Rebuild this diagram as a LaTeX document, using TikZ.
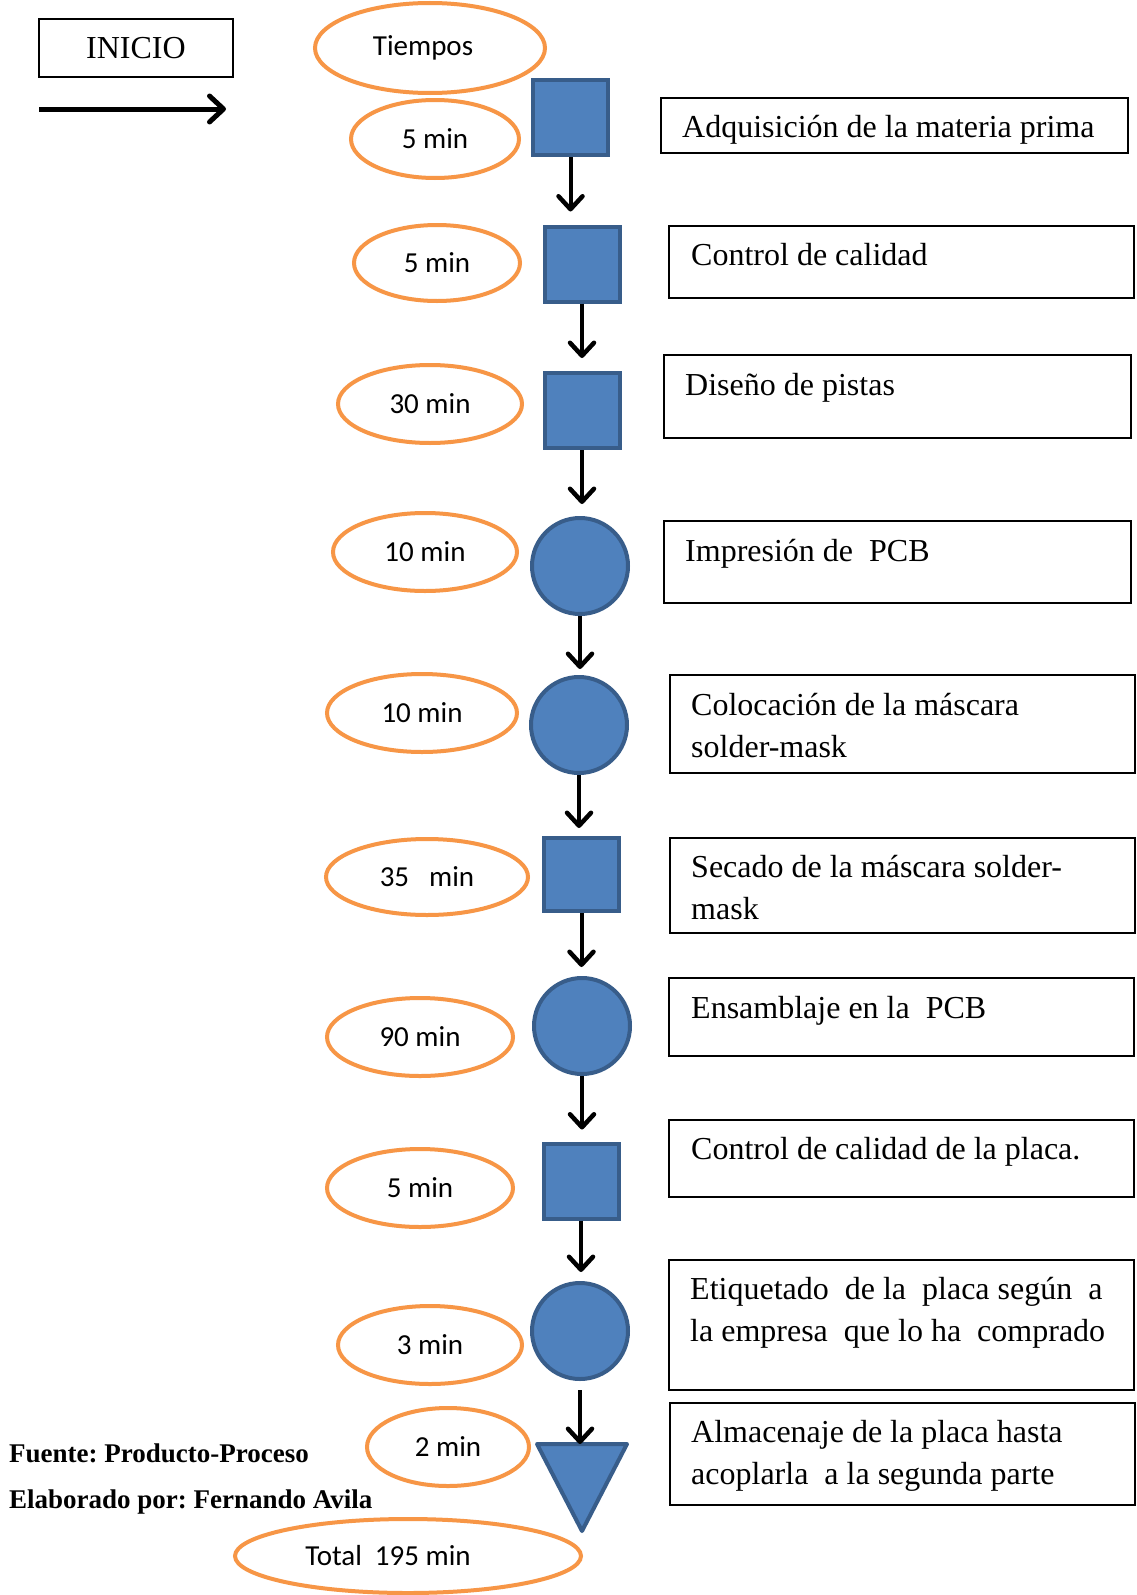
\documentclass[tikz,border=0pt]{standalone}
\usepackage{fontspec}
\setmainfont{Liberation Serif}
\newfontfamily\carl{Carlito}
\usetikzlibrary{shapes.geometric,arrows.meta}
\definecolor{pblue}{HTML}{4F81BD}
\definecolor{pborder}{HTML}{385D8A}
\definecolor{porange}{HTML}{F79646}
\frenchspacing
\newcommand\natsp{\spaceskip=0pt\xspaceskip=0pt\relax}
\begin{document}
\begin{tikzpicture}[x=1pt,y=-1pt,
  proc/.style={rectangle,fill=pblue,draw=pborder,line width=4pt,minimum width=75pt,minimum height=75pt,inner sep=0pt},
  opc/.style={circle,fill=pblue,draw=pborder,line width=4pt,minimum size=96pt,inner sep=0pt},
  tiempo/.style={ellipse,draw=porange,line width=4pt,inner sep=0pt,font=\carl\fontsize{29}{34}\selectfont},
  desc/.style={rectangle,draw=black,line width=1.6pt,inner sep=0pt},
  txt/.style={anchor=base west,inner sep=0pt,text width=440pt,align=left,font=\fontsize{32}{42}\selectfont},
  arr/.style={line width=4pt,-{Straight Barb[length=13pt,width=24pt,line width=4.5pt,round]}},
  foot/.style={anchor=base west,inner sep=0pt,font=\bfseries\fontsize{27}{32}\selectfont}
]
\path[fill=white] (0,0) rectangle (1136,1595);
\useasboundingbox (0,0) rectangle (1136,1595);

% legend
\node[desc,minimum width=194pt,minimum height=58pt,font=\fontsize{32}{38}\selectfont] (inicio) at (136,48) {INICIO};
\coordinate (ia) at (39,109);
\coordinate (ib) at (226,109);
\draw[line width=5pt,-{Straight Barb[length=14pt,width=26pt,line width=5pt,round]}] (ia) -- (ib);

% times
\node[tiempo,minimum width=230pt,minimum height=90pt] (tiempos) at (430,48) {\hspace*{-14pt}Tiempos};
\node[tiempo,minimum width=168pt,minimum height=78pt] (e1) at (435,139) {5 min};
\node[tiempo,minimum width=166pt,minimum height=76pt] (e2) at (437,263) {5 min};
\node[tiempo,minimum width=184pt,minimum height=78pt] (e3) at (430,404) {30 min};
\node[tiempo,minimum width=184pt,minimum height=78pt] (e4) at (425,552) {10 min};
\node[tiempo,minimum width=190pt,minimum height=78pt] (e5) at (422,713) {10 min};
\node[tiempo,minimum width=202pt,minimum height=76pt] (e6) at (427,877) {35\hspace{20pt}min};
\node[tiempo,minimum width=186pt,minimum height=78pt] (e7) at (420,1037) {90 min};
\node[tiempo,minimum width=186pt,minimum height=78pt] (e8) at (420,1188) {5 min};
\node[tiempo,minimum width=184pt,minimum height=78pt] (e9) at (430,1345) {3 min};
\node[tiempo,minimum width=162pt,minimum height=78pt] (e10) at (448,1447) {2 min};
\node[tiempo,minimum width=346pt,minimum height=74pt] (total) at (408,1556) {\hspace*{-40pt}Total\hspace{13pt}195 min};

% process symbols
\node[proc] (s1) at (570.5,117.5) {};
\node[proc] (s2) at (582,264) {};
\node[proc] (s3) at (582,410.5) {};
\node[opc] (c4) at (580,566) {};
\node[opc] (c5) at (579,725) {};
\node[proc,minimum height=73pt] (s6) at (581.5,874.5) {};
\node[opc] (c7) at (582,1026) {};
\node[proc] (s8) at (581,1181) {};
\node[opc] (c9) at (580,1331) {};
\coordinate (tri) at (582,1444);
\filldraw[fill=pblue,draw=pborder,line width=4pt,line join=round] (537,1444) -- (627,1444) -- (582,1531) -- cycle;

% connectors
\draw[arr,shorten >=13pt] (s1.south) -- (s1.south |- s2.north);
\draw[arr,shorten >=13pt] (s2.south) -- (s2.south |- s3.north);
\draw[arr,shorten >=12pt] (s3.south) -- (s3.south |- c4.north);
\draw[arr,shorten >=6pt] (c4.south) -- (c4.south |- c5.north);
\draw[arr,shorten >=8pt] (c5.south) -- (c5.south |- s6.north);
\draw[arr,shorten >=9pt] (s6.south) -- (s6.south |- c7.north);
\draw[arr,shorten >=12pt] (c7.south) -- (c7.south |- s8.north);
\draw[arr,shorten >=9pt] (s8.south) -- (s8.south |- c9.north);
\draw[arr,shorten <=9pt] (c9.south) -- (c9.south |- tri);

% description boxes
\node[desc,minimum width=467pt,minimum height=55pt] (b1) at (894.5,125.5) {};
\node[txt] (t1) at (682,137) {\natsp Adquisición de la materia prima};
\node[desc,minimum width=465pt,minimum height=72pt] (b2) at (901.5,262) {};
\node[txt] (t2) at (691,265) {\natsp Control de calidad};
\node[desc,minimum width=467pt,minimum height=83pt] (b3) at (897.5,396.5) {};
\node[txt] (t3) at (685,395) {\natsp Diseño de pistas};
\node[desc,minimum width=467pt,minimum height=82pt] (b4) at (897.5,562) {};
\node[txt] (t4) at (685,561) {\natsp Impresión de\ \ PCB};
\node[desc,minimum width=465pt,minimum height=98pt] (b5) at (902.5,724) {};
\node[txt] (t5) at (691,715) {\natsp Colocación de la máscara\\solder-mask};
\node[desc,minimum width=465pt,minimum height=95pt] (b6) at (902.5,885.5) {};
\node[txt] (t6) at (691,877) {\natsp Secado de la máscara solder-\\mask};
\node[desc,minimum width=465pt,minimum height=78pt] (b7) at (901.5,1017) {};
\node[txt] (t7) at (691,1018) {\natsp Ensamblaje en la\ \ PCB};
\node[desc,minimum width=465pt,minimum height=77pt] (b8) at (901.5,1158.5) {};
\node[txt] (t8) at (691,1159) {\natsp Control de calidad de la placa.};
\node[desc,minimum width=465pt,minimum height=130pt] (b9) at (901.5,1325) {};
\node[txt] (t9) at (690,1299) {\natsp Etiquetado\ \ de la\ \ placa según\ \ a\\la empresa\ \ que lo ha\ \ comprado};
\node[desc,minimum width=465pt,minimum height=102pt] (b10) at (902.5,1454) {};
\node[txt] (t10) at (691,1442) {\natsp Almacenaje de la placa hasta\\acoplarla\ \ a la segunda parte};

% footer
\node[foot] (fuente) at (9,1462) {Fuente: Producto-Proceso};
\node[foot] (elab) at (9,1508) {Elaborado por: Fernando Avila};
\end{tikzpicture}
\end{document}
